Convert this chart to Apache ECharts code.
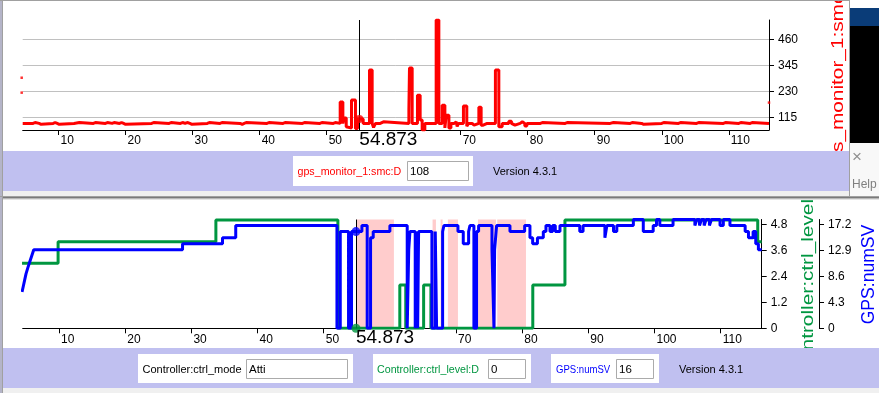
<!DOCTYPE html>
<html><head><meta charset="utf-8">
<script src="https://cdn.jsdelivr.net/npm/echarts@6/dist/echarts.min.js"></script>
<style>html,body{margin:0;padding:0;background:#fff;overflow:hidden}#c{width:879px;height:393px}</style>
</head><body><div id="c"></div>
<script>
// ---------- data ----------
const xTickValues = [10, 20, 30, 40, 50, 70, 80, 90, 100, 110];
const smcTicks = [115, 230, 345, 460];
const ctrlTicks = [0, 1.2, 2.4, 3.6, 4.8];
const svTicks = [0, 4.3, 8.6, 12.9, 17.2];

const cursorTime = 54.873;
const cursorLabel = '54.873';
const cursorSmc = 108;
const cursorCtrl = 0;
const cursorSv = 16;
const ctrlModeText = 'Atti';
const versionText = 'Version 4.3.1';

// gps_monitor_1:smc:D (sample-and-hold)
const smcTime = [4.65, 6.2, 6.5, 7.1, 7.4, 9.2, 9.5, 9.8, 10.1, 12.3, 13.1, 15.2, 15.5, 17.0, 17.3, 18.0, 18.3, 19.1, 19.4, 19.7, 20.0,
  23.9, 24.2, 26.5, 26.8, 28.2, 28.5, 28.9, 29.2, 29.6, 29.9, 32.2, 32.5, 34.1, 34.4, 37.1, 37.4, 37.7, 38.0, 41.1, 41.4,
  43.5, 43.8, 46.4, 46.7, 49.0, 49.3, 51.0, 51.3,
  52.02, 52.42, 52.57, 52.92, 53.11, 53.71, 54.30, 54.60, 55.45, 56.39, 56.79, 57.0, 57.29, 58.0, 58.48,
  62.27, 62.36, 62.76, 63.55, 63.95, 64.25, 64.65, 66.34, 66.74, 67.24, 67.64, 67.84, 68.24, 68.54,
  69.03, 69.33, 69.47, 69.67, 70.41, 70.91, 71.16, 71.7, 72.0, 72.71, 73.05, 73.35, 73.95, 74.2,
  75.18, 75.69, 76.19, 77.18, 77.57, 77.8, 78.1, 78.87, 79.2, 79.57, 79.87,
  81.9, 82.2, 85.6, 85.9, 92.3, 92.8, 95.3, 95.6, 97.0, 97.3, 100.0, 100.3, 102.5, 102.8, 105.2, 105.5,
  109.2, 109.5, 111.5, 111.8, 113.2, 113.5, 116.0];
const smcValue = [88, 92, 88, 84, 88, 92, 88, 84, 88, 92, 88, 92, 88, 92, 88, 92, 88, 92, 88, 84, 88,
  92, 88, 92, 88, 92, 88, 92, 88, 84, 88, 92, 88, 92, 88, 84, 88, 92, 88, 92, 88,
  92, 88, 92, 88, 92, 88, 92, 88,
  183, 88, 112, 73, 68, 191, 65, 108, 88, 324, 88, 70, 88, 95, 88,
  150, 333, 88, 212, 103, 59, 88, 545, 88, 168, 68, 124, 68, 88,
  95, 88, 75, 88, 165, 75, 88, 80, 88, 159, 80, 88, 95, 88,
  324, 73, 88, 97, 88, 80, 88, 95, 88, 77, 88,
  92, 88, 92, 88, 92, 88, 92, 88, 84, 88, 92, 88, 92, 88, 92, 88,
  92, 88, 92, 88, 92, 88, 88];
const strayTime = [4.5, 4.5, 116.0];
const strayValue = [290, 224, 180];

// Controller:ctrl_level:D
const ctrlTime = [4.4, 9.85, 33.7, 52.14, 61.5, 62.4, 65.1, 66.2, 81.6, 86.46, 115.6, 116.2];
const ctrlValue = [3, 4, 5, 0, 2, 0, 2, 0, 2, 5, 4, 4];

// GPS:numSV
const svTime = [4.4, 4.6, 4.8, 5.0, 5.27, 5.57, 5.87, 6.17, 28.66, 34.7, 36.7, 52.0, 52.5, 53.75, 54.2, 55.77, 56.57,
  57.08, 57.48, 60.0, 62.62, 62.85, 63.03, 63.83, 64.03, 64.2, 64.34, 66.35, 66.86, 67.06, 67.97, 68.17,
  70.29, 71.09, 71.9, 72.1, 72.7, 73.1, 73.41, 75.43, 75.73, 75.83, 76.13, 78.15, 80.37, 81.17, 81.58,
  82.3, 83.19, 83.59, 84.2, 84.6, 85.0, 85.71, 88.7, 89.2, 92.5, 92.8, 93.8, 94.3, 96.8, 98.3, 99.8,
  100.3, 100.8, 102.8, 106.1, 106.4, 106.8, 107.1, 107.5, 107.8, 108.3, 108.6, 109.9, 110.4, 111.4,
  113.7, 114.2, 114.9, 115.3, 115.7, 116.2];
const svValue = [6, 7, 8, 9, 10, 11, 12, 13, 14, 15, 17, 0, 16, 0, 16, 17, 0,
  15, 16, 17, 0, 13, 16, 0, 16, 0, 16, 0, 16, 0, 16, 17,
  16, 14, 16, 17, 0, 16, 17, 13, 0, 13, 17, 16, 17, 15, 14,
  15, 16, 17, 16, 17, 16, 17, 16, 17, 15, 17, 16, 17, 18, 16, 17,
  18, 17, 18, 17, 18, 17, 18, 17, 18, 17, 18, 17, 18, 17,
  16, 15, 16, 14, 13, 13];

// shaded intervals
const bandStart = [54.96, 66.45, 67.66, 68.77, 73.31, 76.23];
const bandEnd = [60.61, 66.96, 67.97, 70.29, 76.03, 80.57];

// ---------- chart ----------
const FONT = "'Liberation Sans', Arial, sans-serif";
const zip = (a, b) => a.map((v, i) => [v, b[i]]);
const RED = '#FF0000', GREEN = '#009640', BLUE = '#0000FF';

function xAxisCfg(grid, min, max) {
  return {
    type: 'value', gridIndex: grid, min: min, max: max,
    axisLine: { show: true, onZero: false, lineStyle: { color: '#000', width: 1 } },
    axisTick: { show: true, length: 5, customValues: xTickValues, lineStyle: { color: '#000' } },
    axisLabel: { customValues: xTickValues, align: 'left', margin: 5, color: '#000', fontSize: 12, fontFamily: FONT, padding: [0, 0, 0, 2] },
    splitLine: { show: false }
  };
}
function yAxisCfg(grid, min, max, ticks, extra) {
  return Object.assign({
    type: 'value', gridIndex: grid, position: 'right', min: min, max: max,
    axisLine: { show: true, onZero: false, lineStyle: { color: '#000', width: 1 } },
    axisTick: { show: true, length: 5, customValues: ticks, lineStyle: { color: '#000' } },
    axisLabel: { customValues: ticks, margin: 9, color: '#000', fontSize: 12, fontFamily: FONT, padding: [0, 0, 9, 0] },
    splitLine: { show: false }
  }, extra || {});
}

const chart = echarts.init(document.getElementById('c'), null, { renderer: 'canvas' });
const cursorLine = {
  symbol: 'none', silent: true, animation: false,
  lineStyle: { color: '#000', width: 1, type: 'solid' },
  label: { show: false }, emphasis: { disabled: true },
  data: [{ xAxis: cursorTime }]
};

chart.setOption({
  animation: false,
  backgroundColor: '#fff',
  grid: [
    { left: 22.7, top: 20, width: 746.3, height: 110 },
    { left: 22.7, top: 219.5, width: 739, height: 108.8 }
  ],
  xAxis: [xAxisCfg(0, 4.65, 116.0), xAxisCfg(1, 4.5, 116.2)],
  yAxis: [
    yAxisCfg(0, 58.8, 545.3, smcTicks, { splitLine: { show: true, lineStyle: { color: '#C0C0C0', width: 1 } }, axisLabel: { customValues: smcTicks, margin: 9, color: '#000', fontSize: 12, fontFamily: FONT, padding: [0, 0, 10, 0] } }),
    yAxisCfg(1, 0, 5.0233, ctrlTicks),
    yAxisCfg(1, 0, 18, svTicks, { offset: 57.3 })
  ],
  series: [
    { type: 'line', xAxisIndex: 0, yAxisIndex: 0, step: 'end', data: zip(smcTime, smcValue), showSymbol: false,
      lineStyle: { color: RED, width: 3 }, itemStyle: { color: RED }, z: 3, markLine: cursorLine },
    { type: 'scatter', xAxisIndex: 0, yAxisIndex: 0, data: zip(strayTime, strayValue), symbol: 'rect', symbolSize: 2.5,
      itemStyle: { color: RED }, clip: false, z: 3 },
    { type: 'scatter', xAxisIndex: 0, yAxisIndex: 0, data: [[cursorTime, cursorSmc]], symbolSize: 8,
      itemStyle: { color: RED }, clip: false, z: 5 },
    { type: 'line', xAxisIndex: 1, yAxisIndex: 1, data: [], z: 1,
      markArea: { silent: true, itemStyle: { color: '#FFCCCC', opacity: 1 },
        data: bandStart.map((s, i) => [{ xAxis: s }, { xAxis: bandEnd[i] }]) } },
    { type: 'line', xAxisIndex: 1, yAxisIndex: 1, step: 'end', data: zip(ctrlTime, ctrlValue), showSymbol: false,
      lineStyle: { color: GREEN, width: 3 }, itemStyle: { color: GREEN }, z: 3 },
    { type: 'line', xAxisIndex: 1, yAxisIndex: 2, step: 'end', data: zip(svTime, svValue), showSymbol: false,
      lineStyle: { color: BLUE, width: 3 }, itemStyle: { color: BLUE }, z: 4, markLine: cursorLine },
    { type: 'scatter', xAxisIndex: 1, yAxisIndex: 2, data: [[cursorTime, cursorSv]], symbolSize: 9,
      itemStyle: { color: BLUE }, clip: false, z: 6 },
    { type: 'scatter', xAxisIndex: 1, yAxisIndex: 1, data: [[cursorTime, cursorCtrl]], symbolSize: 9,
      itemStyle: { color: GREEN }, clip: false, z: 6 }
  ]
});

// ---------- window chrome ----------
const g = [];
function rect(x, y, w, h, fill, z, stroke) {
  g.push({ type: 'rect', silent: true, z: z || 100, shape: { x: x, y: y, width: w, height: h },
    style: stroke ? { fill: fill, stroke: stroke, lineWidth: 1 } : { fill: fill } });
}
function txt(x, y, s, fill, size, z, extra) {
  g.push(Object.assign({ type: 'text', silent: true, z: z || 110, x: x, y: y,
    style: { text: s, x: 0, y: 0, fill: fill, fontSize: size, fontFamily: FONT, align: 'left', verticalAlign: 'middle' } }, extra || {}));
}
function vtxt(x, y, s, fill, size, stretch) {
  g.push({ type: 'text', silent: true, z: 50, x: x, y: y, rotation: Math.PI / 2, scaleX: stretch || 1,
    style: { text: s, x: 0, y: 0, fill: fill, fontSize: size, fontFamily: FONT, align: 'center', verticalAlign: 'middle' } });
}

// rotated axis names (partly hidden by the panels above them)
vtxt(839, 74, 'gps_monitor_1:smc:D', RED, 16, 1.3);
vtxt(808.5, 288, 'Controller:ctrl_level', GREEN, 16, 1.3);
vtxt(868.5, 274.5, 'GPS:numSV', BLUE, 18.5, 0.95);

// left edge
rect(0, 0, 2, 393, '#B4B4C8');
rect(2, 0, 1, 393, '#A0A0A0');
// top window
rect(0, 0, 850, 1, '#A0A0A0');
rect(3, 151, 846, 40, '#C0C0F0');
rect(3, 191, 846, 6, '#F0F0F0');
rect(849, 0, 1, 197, '#A0A0A0');
// right strip (other window)
rect(850, 0, 29, 8, '#FFFFFF');
rect(850, 8, 29, 18, '#0A3C78');
rect(850, 26, 29, 117, '#000000');
rect(850, 143, 29, 54, '#F8F8F8');
txt(852, 157, '\u00D7', '#909090', 17);
txt(852, 185, 'Help', '#808080', 12);
// separator / shadow
rect(0, 196, 879, 1, '#A0A0A0');
rect(3, 197, 876, 1, '#7A7A7A');
rect(3, 198, 876, 1, '#B8B8B8');
rect(3, 199, 876, 1, '#E4E4E4');
// bottom window panel
rect(3, 348, 876, 40, '#C0C0F0');
rect(3, 388, 876, 5, '#F0F0F0');

// top panel widgets
rect(293, 156, 180, 30, '#FFFFFF');
txt(297.5, 171.5, 'gps_monitor_1:smc:D', RED, 11, 110, { scaleX: 0.97 });
rect(407.5, 161.5, 61, 19, '#FFFFFF', 105, '#ABABAB');
txt(410, 171.5, String(cursorSmc), '#000', 11.5);
txt(493, 171.5, versionText, '#000', 11);

// bottom panel widgets
rect(138, 354, 215, 29, '#FFFFFF');
txt(142.5, 369.5, 'Controller:ctrl_mode', '#000', 11);
rect(246.5, 359.5, 101, 19, '#FFFFFF', 105, '#ABABAB');
txt(249, 369.5, ctrlModeText, '#000', 11.5);

rect(373, 354, 158, 29, '#FFFFFF');
txt(377, 369.5, 'Controller:ctrl_level:D', GREEN, 11, 110, { scaleX: 0.97 });
rect(488.5, 359.5, 37, 19, '#FFFFFF', 105, '#ABABAB');
txt(491, 369.5, String(cursorCtrl), '#000', 11.5);

rect(551, 354, 108, 29, '#FFFFFF');
txt(556, 369.5, 'GPS:numSV', BLUE, 11, 110, { scaleX: 0.87 });
rect(616.5, 359.5, 37, 19, '#FFFFFF', 105, '#ABABAB');
txt(619, 369.5, String(cursorSv), '#000', 11.5);

txt(679, 369.5, versionText, '#000', 11);

// cursor value labels under each plot
const cx0 = chart.convertToPixel({ xAxisIndex: 0 }, cursorTime);
const cx1 = chart.convertToPixel({ xAxisIndex: 1 }, cursorTime);
txt(cx0, 139.5, cursorLabel, '#000', 19, 60);
txt(cx1, 337.5, cursorLabel, '#000', 19, 60);

chart.setOption({ graphic: { elements: g } });
</script>
</body></html>
